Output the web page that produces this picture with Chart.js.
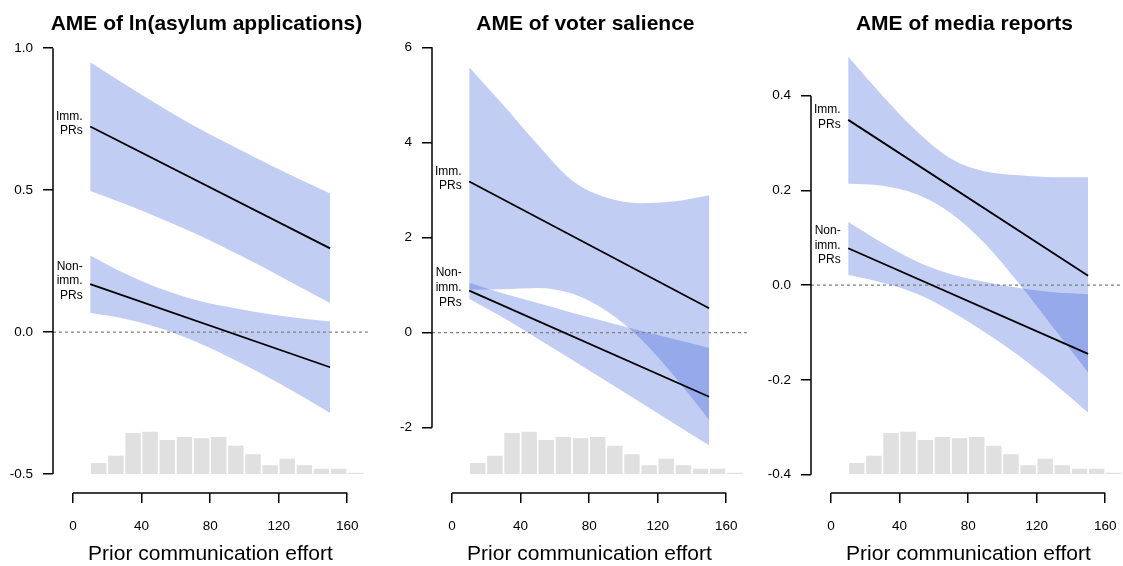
<!DOCTYPE html>
<html>
<head>
<meta charset="utf-8">
<script src="https://cdn.jsdelivr.net/npm/chart.js@4.4.1/dist/chart.umd.min.js"></script>
<style>
  html, body { margin: 0; padding: 0; background: #fff; overflow: hidden; }
  body { width: 1123px; height: 566px; position: relative; }
  .panel { position: absolute; top: 0; width: 374px; height: 566px; }
</style>
</head>
<body>
<div class="panel" style="left:0px"><canvas id="c0"></canvas></div>
<div class="panel" style="left:379px"><canvas id="c1"></canvas></div>
<div class="panel" style="left:758px"><canvas id="c2"></canvas></div>
<script>
const FONT = '"Liberation Sans", Arial, Helvetica, sans-serif';

// x positions where the bands were read, and line end points
const BAND_X = [10, 30, 50, 70, 90, 110, 130, 150];
const LINE_X = [10, 150];
const X_TICKS = [0, 40, 80, 120, 160];

// histogram of prior communication effort (same in all three panels)
const HIST_MID = [15, 25, 35, 45, 55, 65, 75, 85, 95, 105, 115, 125, 135, 145, 155, 165];
const HIST_COUNT = [33, 55, 123, 127, 102, 111, 107, 111, 85, 59, 26, 46, 26, 16, 16, 4];

const TITLES = ['AME of ln(asylum applications)', 'AME of voter salience', 'AME of media reports'];

// panel 1: ln(asylum applications)
const ASY_TICKS = [-0.5, 0, 0.5, 1];
const ASY_IMM = [0.724, 0.295];
const ASY_IMM_HI = [0.951, 0.874, 0.799, 0.729, 0.665, 0.604, 0.545, 0.488];
const ASY_IMM_LO = [0.497, 0.452, 0.403, 0.351, 0.293, 0.232, 0.167, 0.102];
const ASY_NON = [0.169, -0.124];
const ASY_NON_HI = [0.270, 0.207, 0.155, 0.116, 0.089, 0.067, 0.050, 0.037];
const ASY_NON_LO = [0.068, 0.047, 0.015, -0.030, -0.085, -0.147, -0.214, -0.285];

// panel 2: voter salience
const SAL_TICKS = [-2, 0, 2, 4, 6];
const SAL_IMM = [3.176, 0.513];
const SAL_IMM_HI = [5.58, 4.78, 3.95, 3.20, 2.84, 2.72, 2.76, 2.89];
const SAL_IMM_LO = [0.90, 0.91, 0.94, 0.82, 0.46, -0.13, -0.93, -1.84];
const SAL_NON = [0.883, -1.35];
const SAL_NON_HI = [1.05, 0.82, 0.62, 0.42, 0.23, 0.04, -0.14, -0.32];
const SAL_NON_LO = [0.71, 0.31, -0.13, -0.57, -1.02, -1.47, -1.92, -2.37];

// panel 3: media reports
const MED_TICKS = [-0.4, -0.2, 0, 0.2, 0.4];
const MED_IMM = [0.349, 0.020];
const MED_IMM_HI = [0.482, 0.400, 0.325, 0.267, 0.240, 0.232, 0.228, 0.228];
const MED_IMM_LO = [0.214, 0.210, 0.192, 0.152, 0.087, 0.002, -0.091, -0.184];
const MED_NON = [0.078, -0.145];
const MED_NON_HI = [0.134, 0.089, 0.050, 0.023, 0.007, -0.006, -0.015, -0.019];
const MED_NON_LO = [0.022, 0.005, -0.018, -0.055, -0.100, -0.150, -0.207, -0.269];

const BAND_FILL = 'rgba(50, 90, 215, 0.3)';
const HIST_FILL = '#e0e0e0';

const panels = [
  { title: TITLES[0], ticks: ASY_TICKS, dec: 1, yMin: -0.567, yMax: 1.029,
    imm: ASY_IMM, immHi: ASY_IMM_HI, immLo: ASY_IMM_LO, non: ASY_NON, nonHi: ASY_NON_HI, nonLo: ASY_NON_LO },
  { title: TITLES[1], ticks: SAL_TICKS, dec: 0, yMin: -3.373, yMax: 6.153,
    imm: SAL_IMM, immHi: SAL_IMM_HI, immLo: SAL_IMM_LO, non: SAL_NON, nonHi: SAL_NON_HI, nonLo: SAL_NON_LO },
  { title: TITLES[2], ticks: MED_TICKS, dec: 1, yMin: -0.4386, yMax: 0.5176,
    imm: MED_IMM, immHi: MED_IMM_HI, immLo: MED_IMM_LO, non: MED_NON, nonHi: MED_NON_HI, nonLo: MED_NON_LO }
];

const pts = (xs, ys) => xs.map((x, i) => ({ x: x, y: ys[i] }));

function makePanel(p, canvasId) {
  const bandEdge = (ys, fill) => ({
    type: 'line', data: pts(BAND_X, ys), yAxisID: 'y',
    borderColor: 'rgba(0,0,0,0)', borderWidth: 1, pointRadius: 0,
    cubicInterpolationMode: 'monotone',
    fill: fill ? '-1' : false, backgroundColor: BAND_FILL
  });
  const effLine = (ys) => ({
    type: 'line', data: pts(LINE_X, ys), yAxisID: 'y',
    borderColor: '#000', borderWidth: 1.8, pointRadius: 0, fill: false
  });

  // R-style axes: lines only between first and last tick, zero line, titles, PR labels
  const decor = {
    id: 'decor' + canvasId,
    afterDatasetDraw(chart, args) {
      if (args.index !== 2) return;
      const { ctx, chartArea } = chart;
      const y0 = chart.scales.y.getPixelForValue(0);
      ctx.save();
      ctx.strokeStyle = '#808080';
      ctx.lineWidth = 1.2;
      ctx.setLineDash([3, 3]);
      ctx.beginPath();
      ctx.moveTo(chartArea.left, y0);
      ctx.lineTo(chartArea.right, y0);
      ctx.stroke();
      ctx.restore();
    },
    afterDraw(chart) {
      const { ctx, chartArea, scales } = chart;
      ctx.save();
      ctx.strokeStyle = '#000';
      ctx.lineWidth = 1.5;
      ctx.beginPath();
      ctx.moveTo(chartArea.left, scales.y.getPixelForValue(p.ticks[0]));
      ctx.lineTo(chartArea.left, scales.y.getPixelForValue(p.ticks[p.ticks.length - 1]));
      ctx.moveTo(scales.x.getPixelForValue(X_TICKS[0]), chartArea.bottom);
      ctx.lineTo(scales.x.getPixelForValue(X_TICKS[X_TICKS.length - 1]), chartArea.bottom);
      ctx.stroke();

      ctx.fillStyle = '#000';
      ctx.font = 'bold 21px ' + FONT;
      ctx.textAlign = 'center';
      ctx.textBaseline = 'alphabetic';
      ctx.fillText(p.title, (chartArea.left + chartArea.right) / 2 - 4, 30);

      ctx.font = '12px ' + FONT;
      ctx.textAlign = 'right';
      ctx.textBaseline = 'middle';
      const tags = [['Imm.', 'PRs'], ['Non-', 'imm.', 'PRs']];
      tags.forEach((lines, di) => {
        const first = chart.getDatasetMeta(di).data[0];
        const lh = 14.7;
        const top = first.y - 3 - (lines.length - 1) * lh / 2;
        lines.forEach((t, k) => ctx.fillText(t, first.x - 7.5, top + k * lh));
      });
      ctx.restore();
    }
  };

  return new Chart(document.getElementById(canvasId), {
    type: 'line',
    data: {
      datasets: [
        effLine(p.imm),
        effLine(p.non),
        bandEdge(p.immHi, false),
        bandEdge(p.immLo, true),
        bandEdge(p.nonHi, false),
        bandEdge(p.nonLo, true),
        {
          type: 'bar', data: pts(HIST_MID, HIST_COUNT), yAxisID: 'yh',
          backgroundColor: HIST_FILL, borderWidth: 0,
          barPercentage: 0.9, categoryPercentage: 1
        }
      ]
    },
    options: {
      responsive: true,
      maintainAspectRatio: false,
      animation: false,
      events: [],
      layout: { padding: { top: 40, left: 0, right: 0, bottom: 0 } },
      plugins: { legend: { display: false }, tooltip: { enabled: false }, title: { display: false } },
      scales: {
        x: {
          type: 'linear', min: -11.7, max: 172, offset: false,
          afterFit(s) { s.height = 73; },
          afterBuildTicks(s) { s.ticks = X_TICKS.map(v => ({ value: v })); },
          border: { display: false },
          grid: { offset: false, drawOnChartArea: false, drawTicks: true, tickLength: 10,
                  color: '#000', tickColor: '#000', lineWidth: 1.5 },
          ticks: { color: '#000', padding: 15.5, maxRotation: 0, autoSkip: false, font: { family: FONT, size: 13.5 } },
          title: { display: true, text: 'Prior communication effort', color: '#000',
                   font: { family: FONT, size: 21 }, padding: { top: 0, bottom: -1 } }
        },
        y: {
          type: 'linear', position: 'left', min: p.yMin, max: p.yMax,
          afterFit(s) { s.width = 53; },
          afterBuildTicks(s) { s.ticks = p.ticks.map(v => ({ value: v })); },
          border: { display: false },
          grid: { offset: false, drawOnChartArea: false, drawTicks: true, tickLength: 10,
                  color: '#000', tickColor: '#000', lineWidth: 1.5 },
          ticks: { color: '#000', padding: 10, font: { family: FONT, size: 13.5 },
                   callback: (v) => Number(v).toFixed(p.dec) }
        },
        yh: { type: 'linear', display: false, min: -57, max: 1302 }
      }
    },
    plugins: [decor]
  });
}

panels.forEach((p, i) => makePanel(p, 'c' + i));
</script>
</body>
</html>
